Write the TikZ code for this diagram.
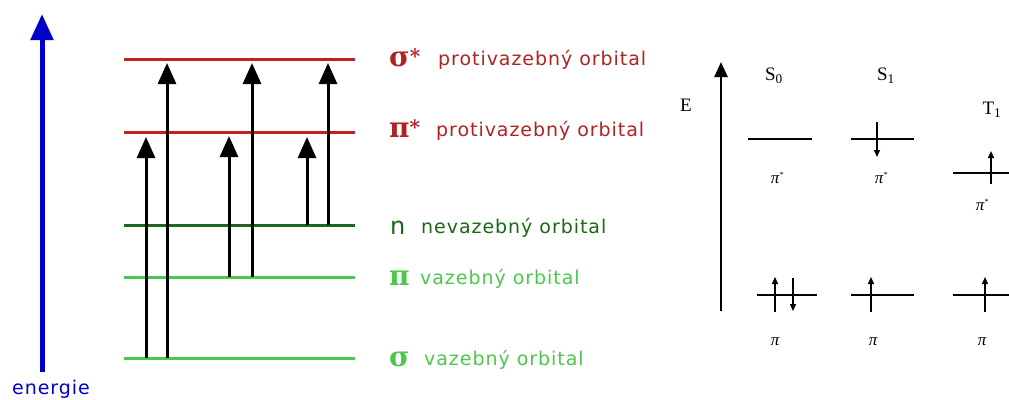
\documentclass[tikz,border=0pt]{standalone}
\usepackage{fontspec}
\setmainfont{Liberation Serif}
\newfontfamily\lab[LetterSpace=5]{DejaVu Sans}
\newfontfamily\grk{DejaVu Serif}
\usetikzlibrary{arrows.meta}
\definecolor{lvred}{RGB}{200,30,30}
\definecolor{txred}{RGB}{175,35,35}
\definecolor{dkgreen}{RGB}{25,105,25}
\definecolor{ltgreen}{RGB}{75,200,75}
\definecolor{engblue}{RGB}{0,0,200}
\tikzset{
  level/.style={line width=3pt},
  trans/.style={line width=3pt,-{Triangle[width=18pt,length=21pt]}},
  lbl/.style={anchor=base west,inner sep=0pt,font=\lab\fontsize{19}{21}\selectfont},
  glab/.style={anchor=base west,inner sep=0pt,font=\grk\bfseries\fontsize{28}{30}\selectfont},
  slev/.style={line width=2.5pt},
  spin/.style={line width=1.3pt,-{Triangle[width=6pt,length=7pt]}},
  stxt/.style={inner sep=0pt,font=\fontsize{19}{20}\selectfont},
  otxt/.style={inner sep=0pt,font=\itshape\fontsize{17}{18}\selectfont},
}
\begin{document}
\begin{tikzpicture}[x=1pt,y=-1pt]
\useasboundingbox (0,0) rectangle (1009,399);
% energy axis
\coordinate (eb) at (42,372);
\coordinate (et) at (42,14);
\draw[engblue,line width=5pt,-{Triangle[width=22pt,length=26pt]}] (eb) -- (et);
\node[engblue,inner sep=0pt,font=\lab\fontsize{19}{20}\selectfont] (en) at (51,389) {energie};
% levels
\draw[level,lvred]   (124,59)  coordinate (ss1) -- (355,59)  coordinate (ss2);
\draw[level,lvred]   (124,132) coordinate (ps1) -- (355,132) coordinate (ps2);
\draw[level,dkgreen] (124,225) coordinate (n1)  -- (355,225) coordinate (n2);
\draw[level,ltgreen] (124,277) coordinate (p1)  -- (355,277) coordinate (p2);
\draw[level,ltgreen] (124,358) coordinate (s1)  -- (355,358) coordinate (s2);
% transitions
\coordinate (a1) at (146,358); \coordinate (b1) at (146,137);
\coordinate (a2) at (167,358); \coordinate (b2) at (167,63);
\coordinate (a3) at (229,277); \coordinate (b3) at (229,136);
\coordinate (a4) at (252,277); \coordinate (b4) at (252,63);
\coordinate (a5) at (307,225); \coordinate (b5) at (307,137);
\coordinate (a6) at (328,225); \coordinate (b6) at (328,63);
\foreach \i in {1,...,6} \draw[trans] (a\i) -- (b\i);
% labels
\node[glab,txred] (gss) at (389,66) {σ\raisebox{3pt}{\fontsize{20}{20}\selectfont*}};
\node[lbl,txred] (tss) at (438,65) {protivazebný orbital};
\node[glab,txred] (gps) at (389,137) {π\raisebox{3pt}{\fontsize{20}{20}\selectfont*}};
\node[lbl,txred] (tps) at (436,136) {protivazebný orbital};
\node[anchor=base west,inner sep=0pt,dkgreen,font=\lab\fontsize{24}{26}\selectfont] (gn) at (390,234) {n};
\node[lbl,dkgreen] (tn) at (421,233) {nevazebný orbital};
\node[glab,ltgreen] (gp) at (389,285) {π};
\node[lbl,ltgreen] (tp) at (420,284) {vazebný orbital};
\node[glab,ltgreen] (gs) at (389,366) {σ};
\node[lbl,ltgreen] (ts) at (424,365) {vazebný orbital};
% right panel
\coordinate (Eb) at (721,311);
\coordinate (Et) at (721,62);
\draw[line width=2.5pt,-{Triangle[width=13pt,length=15pt]}] (Eb) -- (Et);
\node[stxt] (E) at (686,105) {E};
\node[stxt] (S0) at (774,76) {S\textsubscript{0}};
\node[stxt] (S1) at (886,76) {S\textsubscript{1}};
\node[stxt] (T1) at (992,110) {T\textsubscript{1}};
% pi* levels
\draw[slev] (748,139) coordinate (u01) -- (812,139) coordinate (u02);
\draw[slev] (851,139) coordinate (u11) -- (914,139) coordinate (u12);
\draw[slev] (953,173) coordinate (u21) -- (1012,173) coordinate (u22);
\coordinate (d1a) at (877,122); \coordinate (d1b) at (877,157);
\draw[spin] (d1a) -- (d1b);
\coordinate (t1a) at (991,184); \coordinate (t1b) at (991,151);
\draw[spin] (t1a) -- (t1b);
\node[otxt] (ps0) at (777,178) {π\raisebox{6pt}{\fontsize{8}{8}\selectfont*}};
\node[otxt] (ps1) at (881,178) {π\raisebox{6pt}{\fontsize{8}{8}\selectfont*}};
\node[otxt] (ps2) at (982,205) {π\raisebox{6pt}{\fontsize{8}{8}\selectfont*}};
% pi levels
\draw[slev] (757,295) coordinate (l01) -- (817,295) coordinate (l02);
\draw[slev] (851,295) coordinate (l11) -- (914,295) coordinate (l12);
\draw[slev] (953,295) coordinate (l21) -- (1012,295) coordinate (l22);
\coordinate (x1a) at (775,312); \coordinate (x1b) at (775,277);
\coordinate (x2a) at (793,278); \coordinate (x2b) at (793,311);
\coordinate (x3a) at (871,312); \coordinate (x3b) at (871,277);
\coordinate (x4a) at (985,312); \coordinate (x4b) at (985,277);
\draw[spin] (x1a) -- (x1b);
\draw[spin] (x2a) -- (x2b);
\draw[spin] (x3a) -- (x3b);
\draw[spin] (x4a) -- (x4b);
\node[otxt] (p0) at (775,342) {π};
\node[otxt] (p1l) at (873,342) {π};
\node[otxt] (p2l) at (982,342) {π};
\end{tikzpicture}
\end{document}
